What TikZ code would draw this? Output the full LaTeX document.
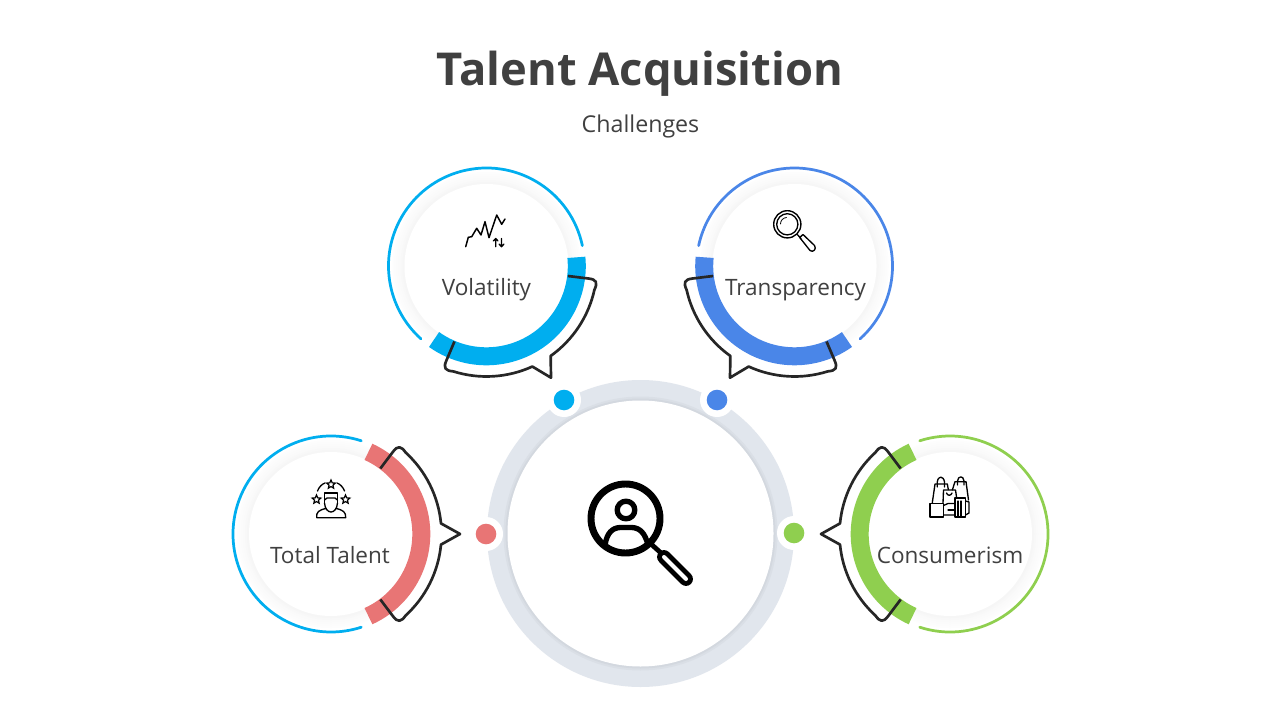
\documentclass[tikz,border=0pt]{standalone}
\usepackage{fontspec}
\setmainfont{Open Sans}
\usetikzlibrary{shapes.geometric}
\definecolor{txt}{HTML}{404040}
\definecolor{cyanb}{HTML}{00AEEF}
\definecolor{blueb}{HTML}{4A86E8}
\definecolor{redb}{HTML}{E87575}
\definecolor{greenb}{HTML}{8FCF4F}
\definecolor{ringc}{HTML}{E1E6ED}
\definecolor{ink}{HTML}{262626}
\tikzset{
  thintrack/.style={line width=2.05pt,line cap=round},
  thicktrack/.style={line width=13.5pt},
  bubble/.style={draw=ink,line width=2pt,line join=round},
  lbl/.style={text=txt,font=\fontsize{16.9}{20}\selectfont,inner sep=0pt,anchor=base},
  ico/.style={draw=black,line width=1pt,line join=round,line cap=round},
  bigico/.style={draw=black,line join=round,line cap=round},
  star5/.style={star,star points=5,star point ratio=2.2,draw=black,line width=.9pt,inner sep=0pt,minimum size=6.8pt,fill=white},
}
% #1 cx, #2 cy, #3 rotation (tail direction), #4 thin colour, #5 thick colour
\newcommand{\badgering}[5]{%
  \begin{scope}[shift={(#1,#2)},x=.75pt,y=.75pt,rotate=#3]
    \foreach \rr/\gg in {94/.6,92/1,90/1.5,88/2,86/2.7,84/3.5}{\fill[black!\gg!white] (0,0) circle[radius=\rr*.75pt];}
    \fill[white] (0,0) circle[radius=82*.75pt];
    \draw[#4,thintrack] (72:98) arc[start angle=72,end angle=288,radius=98*.75pt];
    \draw[#5,thicktrack] (-65.5:90.3) arc[start angle=-65.5,end angle=65.5,radius=90.3*.75pt];
    \draw[bubble] (-53:82) -- (-53:103) .. controls (-53:111) and (-51.5:112.5) .. (-47.5:110.5)
       arc[start angle=-47.5,end angle=-5.5,radius=110.5*.75pt]
       -- (0:129) -- (5.5:110.5)
       arc[start angle=5.5,end angle=47.5,radius=110.5*.75pt]
       .. controls (51.5:112.5) and (53:111) .. (53:103) -- (53:82);
  \end{scope}}
\begin{document}
\begin{tikzpicture}[x=.75pt,y=-.75pt]
\useasboundingbox (0,0) rectangle (1280,720);
\fill[white] (0,0) rectangle (1280,720);
\node[text=txt,font=\fontsize{34}{40}\selectfont\bfseries,inner sep=0pt,anchor=base] (title) at (640,86) {Talent Acquisition};
\node[lbl,font=\fontsize{17.4}{20}\selectfont] (sub) at (640.5,133) {Challenges};

% central disc
\fill[ringc] (640.5,533.5) circle[radius=153.5*.75pt];
\fill[ringc!97!black] (640.5,533.5) circle[radius=137*.75pt];
\fill[ringc!94!black] (640.5,533.5) circle[radius=135*.75pt];
\fill[white] (640.5,533.5) circle[radius=133*.75pt];

\foreach \n/\px/\py/\cc in {a/564/400/cyanb,b/717/400/blueb,c/486/534/redb,d/794/533/greenb}{
  \fill[white] (\px,\py) circle[radius=17*.75pt];
  \fill[\cc] (\px,\py) circle[radius=10.3*.75pt];
}

\badgering{486.5}{266}{-60}{cyanb}{cyanb}
\badgering{794.5}{266}{-120}{blueb}{blueb}
\badgering{331}{534}{0}{cyanb}{redb}
\badgering{950}{534}{180}{greenb}{greenb}

\node[lbl] (vol) at (486.5,295.5) {Volatility};
\node[lbl] (tra) at (795.5,295.5) {Transparency};
\node[lbl] (tot) at (330,563.8) {Total Talent};
\node[lbl] (con) at (950,563.8) {Consumerism};

% centre icon
\begin{scope}
  \draw[bigico,line width=5.2pt] (625.5,518.5) circle[radius=34.5*.75pt];
  \draw[bigico,line width=4pt] (626,510) circle[radius=8.8*.75pt];
  \begin{scope}
    \clip (625.5,518.5) circle[radius=35*.75pt];
    \draw[bigico,line width=4pt] (605,545) .. controls (607,533) and (612,528) .. (620,527.5) -- (632,527.5) .. controls (640,528) and (645,533) .. (648,545);
  \end{scope}
  \draw[bigico,line width=3.6pt] (651,544) -- (661,553);
  \draw[black,line width=10.4pt,line cap=round] (664,557) -- (686,579);
  \draw[white,line width=3pt,line cap=round] (664,557) -- (686,579);
\end{scope}

% volatility icon
\draw[ico,line width=1.1pt] (465.7,246.7) -- (468.3,237.3) -- (471.7,236.7) -- (476.7,228.3) -- (481,235) -- (485,221.7) -- (489,237.7) -- (496.7,215) -- (501.7,224.3) -- (505,219);
\draw[ico] (495.7,246.7) -- (495.7,238.5) (493.4,241) -- (495.7,238.5) -- (498,241);
\draw[ico] (501.5,238.5) -- (501.5,246.7) (499.2,244.2) -- (501.5,246.7) -- (503.8,244.2);

% transparency icon
\draw[ico,line width=1.05pt] (787.3,224.3) circle[radius=13.6*.75pt];
\draw[ico] (787.3,224.3) circle[radius=10.6*.75pt];
\draw[ico,line width=.6pt] (780.5,224) .. controls (780.5,220.5) and (783,217.8) .. (786.5,217.5);
\draw[ico] (796.8,234) -- (801,238.5);
\draw[ico] (799.7,237.5) -- (803,234.5) -- (814.5,245.5) .. controls (817,249) and (813,253) .. (810,250.5) -- cycle;

% total talent icon
\node[star5] (s1) at (331,484.5) {};
\node[star5] (s2) at (316.5,499.5) {};
\node[star5] (s3) at (345.5,499.5) {};
\draw[ico] (317.5,491) .. controls (319,487) and (322,484) .. (325,483);
\draw[ico] (344.5,491) .. controls (343,487) and (340,484) .. (337,483);
\draw[ico] (324.5,504) -- (324.5,493) -- (337.5,493) -- (337.5,504);
\draw[ico] (324.5,500) -- (327,498) -- (335,498) -- (337.5,500);
\draw[ico] (324.5,503) .. controls (325,509) and (328,512) .. (331,512) .. controls (334,512) and (337,509) .. (337.5,503);
\draw[ico] (316.7,517.7) -- (345.7,517.7) .. controls (346,512) and (343,510) .. (336,508.5) (326,508.5) .. controls (319,510) and (316,512) .. (316.7,517.7);

% consumerism icon
\draw[ico] (932.3,502.7) -- (935,484) -- (947.3,484) -- (948.3,489.5);
\draw[ico] (937.3,487) -- (937.3,482) .. controls (938,475.5) and (943.5,475.5) .. (944.5,482) -- (944.5,487);
\draw[ico] (952.3,490) -- (955,481.7) -- (966,481.7) -- (968.5,500);
\draw[ico] (957.5,485) -- (957.5,481) .. controls (958,475.5) and (963.5,475.5) .. (964,481) -- (964,485);
\draw[ico] (943,503) -- (943.5,490) -- (955.5,490) -- (956.5,497);
\draw[ico] (946.5,493) .. controls (947.5,496) and (951,496) .. (952,493);
\draw[ico] (930,503.3) rectangle (943.5,517);
\draw[ico] (943.5,505.5) -- (948,503.5) -- (955,503.5) (943.5,515) -- (955,515);
\draw[ico] (955,498) rectangle (965.5,517);
\draw[ico] (958,501) -- (958,517) (961,501) -- (961,517);
\draw[ico] (965.5,501) -- (969,502) -- (969,513) -- (965.5,515);
\draw[ico] (948,510) -- (955,510);
\end{tikzpicture}
\end{document}
